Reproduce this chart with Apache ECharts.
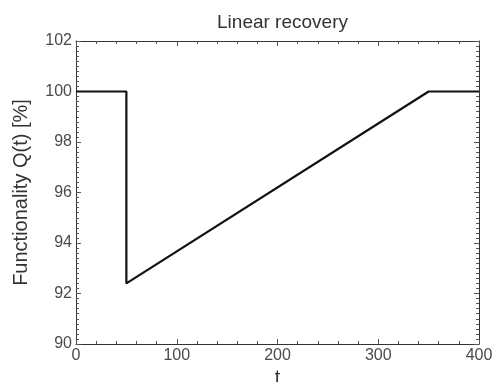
<!DOCTYPE html>
<html>
<head>
<meta charset="utf-8">
<script src="https://cdn.jsdelivr.net/npm/echarts@6/dist/echarts.min.js"></script>
<style>
  html, body { margin: 0; padding: 0; background: #fff; }
  #chart { width: 492px; height: 382px; }
</style>
</head>
<body>
<div id="chart"></div>
<script>
// Functionality over time: nominal, sudden loss, linear recovery
const timePoints = [0, 50, 50, 350, 400];
const functionality = [100, 100, 92.4, 100, 100];
const xTicks = [0, 100, 200, 300, 400];
const yTicks = [90, 92, 94, 96, 98, 100, 102];

const chart = echarts.init(document.getElementById('chart'), null, { renderer: 'canvas' });
const FONT = 'Liberation Sans, Arial, sans-serif';
const frameColor = '#333';
const tickColor = '#555';

function axisBase(extra) {
  return Object.assign({
    type: 'value',
    axisLine: { show: true, onZero: false, lineStyle: { color: frameColor, width: 1 } },
    axisTick: { show: true, inside: true, length: 5, lineStyle: { color: tickColor } },
    splitLine: { show: false },
    axisLabel: { color: '#4a4a4a', fontFamily: FONT, fontSize: 16 }
  }, extra);
}

chart.setOption({
  animation: false,
  backgroundColor: '#fff',
  title: {
    text: 'Linear recovery',
    left: 277.5, top: 8, textAlign: 'center',
    textStyle: { fontFamily: FONT, fontSize: 19, fontWeight: 'normal', color: '#333' }
  },
  grid: { left: 76, right: 13, top: 41, bottom: 38, containLabel: false, outerBoundsMode: 'none' },
  xAxis: [
    axisBase({
      position: 'bottom',
      min: xTicks[0], max: xTicks[xTicks.length - 1], interval: 100,
      minorTick: { show: true, splitNumber: 5, length: 3, lineStyle: { color: tickColor } },
      axisLabel: { color: '#4a4a4a', fontFamily: FONT, fontSize: 16, margin: 4, showMinLabel: true, showMaxLabel: true },
      name: 't', nameLocation: 'middle', nameGap: 20,
      nameTextStyle: { fontFamily: FONT, fontSize: 20, color: '#333' }
    }),
    axisBase({
      position: 'top',
      min: xTicks[0], max: xTicks[xTicks.length - 1], interval: 100,
      minorTick: { show: true, splitNumber: 5, length: 3, lineStyle: { color: tickColor } },
      axisLabel: { show: false }
    })
  ],
  yAxis: [
    axisBase({
      position: 'left',
      min: yTicks[0], max: yTicks[yTicks.length - 1], interval: 2,
      minorTick: { show: true, splitNumber: 10, length: 3, lineStyle: { color: tickColor } },
      axisLabel: { color: '#4a4a4a', fontFamily: FONT, fontSize: 16, margin: 4 },
      name: 'Functionality Q(t) [%]', nameLocation: 'middle', nameGap: 45,
      nameTextStyle: { fontFamily: FONT, fontSize: 20, color: '#333' }
    }),
    axisBase({
      position: 'right',
      min: yTicks[0], max: yTicks[yTicks.length - 1], interval: 2,
      minorTick: { show: true, splitNumber: 10, length: 3, lineStyle: { color: tickColor } },
      axisLabel: { show: false }
    })
  ],
  series: [{
    type: 'line',
    xAxisIndex: 0, yAxisIndex: 0,
    data: timePoints.map((t, i) => [t, functionality[i]]),
    showSymbol: false,
    symbol: 'none',
    lineStyle: { color: '#111', width: 2.2 },
    z: 5
  }]
});
</script>
</body>
</html>
